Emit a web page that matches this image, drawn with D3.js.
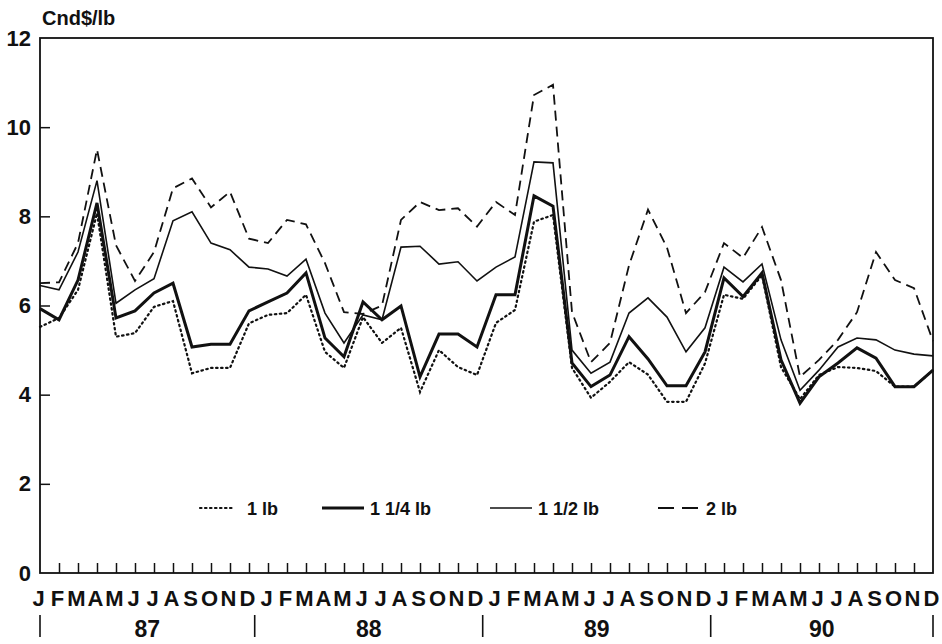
<!DOCTYPE html>
<meta charset="utf-8">
<style>
body { margin: 0; background: #fff; }
svg { font-family: "Liberation Sans", Arial, sans-serif; }
.axis text { font-size: 22px; fill: #111; font-weight: bold; }
.axis line { stroke: #111; stroke-width: 1.5; }
.axis path { display: none; }
</style>
<body>
<script src="https://cdnjs.cloudflare.com/ajax/libs/d3/7.8.5/d3.min.js"></script>
<script>

// monthly prices Jan 1987 .. Dec 1990, Cnd$/lb
var months = ["J","F","M","A","M","J","J","A","S","O","N","D"];
var years = ["87","88","89","90"];

var lb1 = [5.52,5.72,6.35,8.07,5.30,5.38,5.97,6.10,4.48,4.60,4.60,5.60,
           5.79,5.83,6.24,4.96,4.60,5.74,5.16,5.50,4.06,5.00,4.62,4.44,
           5.61,5.90,7.88,8.03,4.60,3.93,4.29,4.73,4.45,3.84,3.84,4.70,
           6.24,6.15,6.68,4.62,3.90,4.44,4.62,4.60,4.53,4.18,4.18,4.55];
var lb114 = [5.93,5.68,6.57,8.30,5.72,5.88,6.28,6.50,5.07,5.13,5.13,5.88,
             6.08,6.28,6.73,5.27,4.85,6.08,5.68,5.99,4.40,5.36,5.36,5.07,
             6.24,6.24,8.46,8.23,4.71,4.18,4.44,5.30,4.80,4.20,4.20,4.96,
             6.62,6.20,6.73,4.78,3.81,4.40,4.71,5.05,4.82,4.18,4.18,4.55];
var lb112 = [6.45,6.35,7.20,8.80,6.05,6.35,6.60,7.90,8.10,7.40,7.25,6.86,
             6.82,6.66,7.04,5.83,5.16,5.79,5.68,7.31,7.33,6.93,6.98,6.55,
             6.86,7.09,9.22,9.20,5.00,4.48,4.73,5.83,6.17,5.74,4.96,5.50,
             6.86,6.53,6.93,5.23,4.10,4.55,5.07,5.27,5.23,5.00,4.91,4.87];
var lb2 = [6.50,6.52,7.40,9.50,7.35,6.55,7.20,8.63,8.85,8.20,8.55,7.50,
           7.40,7.92,7.82,6.95,5.85,5.81,6.00,7.92,8.32,8.14,8.18,7.77,
           8.32,8.03,10.72,10.95,5.85,4.73,5.16,6.90,8.15,7.30,5.83,6.30,
           7.40,7.07,7.76,6.57,4.40,4.78,5.23,5.85,7.20,6.57,6.39,5.20];

var seriesNames = ["1 lb", "1 1/4 lb", "1 1/2 lb", "2 lb"];
var yTicks = [0, 2, 4, 6, 8, 10, 12];

var series = [
  {name: seriesNames[0], values: lb1,   width: 2.2, dash: "1.5,3.5", cap: "round"},
  {name: seriesNames[1], values: lb114, width: 3,   dash: null,      cap: "butt"},
  {name: seriesNames[2], values: lb112, width: 1.6, dash: null,      cap: "butt"},
  {name: seriesNames[3], values: lb2,   width: 1.8, dash: "10,6",    cap: "butt"}
];

var W = 942, H = 644;
var plot = {left: 40, right: 933, top: 38, bottom: 573};

var svg = d3.select("body").append("svg")
    .attr("width", W)
    .attr("height", H);

var nMonths = years.length * months.length;

var x = d3.scaleLinear().domain([0, nMonths - 1]).range([plot.left, plot.right]);
var y = d3.scaleLinear().domain([0, 12]).range([plot.bottom, plot.top]);

// y axis, ticks pointing inward
svg.append("g")
    .attr("class", "axis")
    .attr("transform", "translate(" + plot.left + ",0)")
    .call(d3.axisLeft(y).tickValues(yTicks).tickSizeInner(-10).tickSizeOuter(0).tickPadding(9))
    .call(function(g) {
      g.selectAll(".tick line").filter(function(d) { return d === 0 || d === 12; }).remove();
    });

// x axis, one tick per month
svg.append("g")
    .attr("class", "axis")
    .attr("transform", "translate(0," + plot.bottom + ")")
    .call(d3.axisBottom(x).tickValues(d3.range(nMonths)).tickSizeInner(-10).tickSizeOuter(0).tickPadding(17)
      .tickFormat(function(i) { return months[i % 12]; }))
    .call(function(g) {
      g.selectAll(".tick line").filter(function(d) { return d === 0 || d === nMonths - 1; }).remove();
      g.selectAll(".tick text").attr("x", -2);
    });

// frame
svg.append("rect")
    .attr("x", plot.left)
    .attr("y", plot.top)
    .attr("width", plot.right - plot.left)
    .attr("height", plot.bottom - plot.top)
    .attr("fill", "none")
    .attr("stroke", "#111")
    .attr("stroke-width", 1.8);

// year separators and labels
var seps = [0].concat(d3.range(1, years.length).map(function(k) { return 12 * k - 0.7; }), [nMonths - 1]);
svg.selectAll(".sep")
    .data(seps)
  .enter().append("line")
    .attr("class", "sep")
    .attr("x1", function(d) { return x(d); })
    .attr("x2", function(d) { return x(d); })
    .attr("y1", 615)
    .attr("y2", 637)
    .attr("stroke", "#111")
    .attr("stroke-width", 1.6);

svg.selectAll(".year")
    .data(years)
  .enter().append("text")
    .attr("class", "year")
    .attr("x", function(d, i) { return (x(seps[i]) + x(seps[i + 1])) / 2; })
    .attr("y", 637)
    .attr("text-anchor", "middle")
    .style("font-size", "23px")
    .style("font-weight", "bold")
    .attr("fill", "#111")
    .text(function(d) { return d; });

// unit label
svg.append("text")
    .attr("x", 42)
    .attr("y", 25)
    .style("font-size", "20px")
    .style("font-weight", "bold")
    .attr("fill", "#111")
    .text("Cnd$/lb");

// lines
var line = d3.line()
    .x(function(d, i) { return x(i); })
    .y(function(d) { return y(d); });

svg.selectAll(".series")
    .data(series)
  .enter().append("path")
    .attr("class", "series")
    .attr("d", function(d) { return line(d.values); })
    .attr("fill", "none")
    .attr("stroke", "#111")
    .attr("stroke-width", function(d) { return d.width; })
    .attr("stroke-dasharray", function(d) { return d.dash; })
    .attr("stroke-linecap", function(d) { return d.cap; })
    .attr("stroke-linejoin", "miter");

// legend
var legendX = [200, 322, 490, 658];
var leg = svg.selectAll(".legend")
    .data(series)
  .enter().append("g")
    .attr("class", "legend")
    .attr("transform", function(d, i) { return "translate(" + legendX[i] + ",508)"; });

leg.append("line")
    .attr("x1", 0)
    .attr("x2", function(d, i) { return i === 0 ? 33 : 42; })
    .attr("stroke", "#111")
    .attr("stroke-width", function(d) { return d.width; })
    .attr("stroke-dasharray", function(d) { return d.dash ? (d.dash === "10,6" ? "16,8" : d.dash) : null; })
    .attr("stroke-linecap", function(d) { return d.cap; });

leg.append("text")
    .attr("x", function(d, i) { return i === 0 ? 47 : 48; })
    .attr("y", 7)
    .style("font-size", "18px")
    .style("font-weight", "bold")
    .attr("fill", "#111")
    .text(function(d) { return d.name; });

</script>
